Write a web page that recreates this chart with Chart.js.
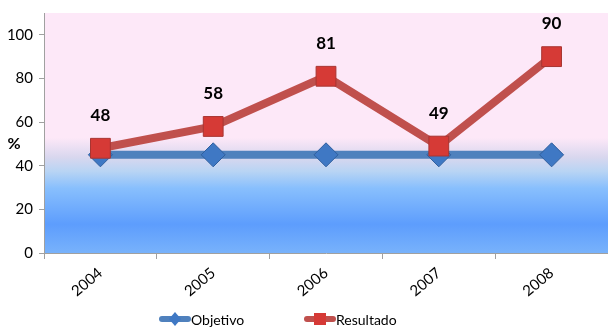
<!DOCTYPE html>
<html>
<head>
<meta charset="utf-8">
<script src="https://cdn.jsdelivr.net/npm/chart.js@4"></script>
<style>
  html, body { margin: 0; padding: 0; background: #ffffff; }
  #wrap { width: 608px; height: 327px; }
</style>
</head>
<body>
<div id="wrap"><canvas id="chart" width="608" height="327"></canvas></div>
<script>
// Year categories and the two series (percent)
const years = ['2004', '2005', '2006', '2007', '2008'];
const objetivo = [45, 45, 45, 45, 45];
const resultado = [48, 58, 81, 49, 90];
const yTicks = [0, 20, 40, 60, 80, 100];

const FONT = 'Lato, "DejaVu Sans Condensed", sans-serif';
const BLUE = '#4f81bd';
const RED = '#c0504d';

// small legend swatch: a thick line with the series marker in the middle
function swatch(color, fill, shape) {
  const c = document.createElement('canvas');
  c.width = 32; c.height = 14;
  const g = c.getContext('2d');
  g.strokeStyle = color; g.lineWidth = 6; g.lineCap = 'round';
  g.beginPath(); g.moveTo(3, 7); g.lineTo(29, 7); g.stroke();
  g.fillStyle = fill;
  g.beginPath();
  if (shape === 'diamond') {
    g.moveTo(16, 0); g.lineTo(22, 7); g.lineTo(16, 14); g.lineTo(10, 7);
  } else {
    g.rect(10, 1, 12, 12);
  }
  g.closePath(); g.fill();
  return c;
}

// plot background: pink fading into a band of blue near the bottom
const backdrop = {
  id: 'backdrop',
  beforeDraw(chart) {
    const { ctx, chartArea: a } = chart;
    const gr = ctx.createLinearGradient(0, a.top, 0, a.bottom);
    gr.addColorStop(0.00, '#fde8f8');
    gr.addColorStop(0.52, '#fde8f8');
    gr.addColorStop(0.60, '#d9d7ee');
    gr.addColorStop(0.66, '#b8d4f4');
    gr.addColorStop(0.73, '#88bffd');
    gr.addColorStop(0.88, '#5d9dfd');
    gr.addColorStop(1.00, '#78b2fb');
    ctx.save();
    ctx.fillStyle = gr;
    ctx.fillRect(a.left, a.top, a.right - a.left, a.bottom - a.top);
    ctx.restore();
  }
};

// value labels above the Resultado markers, the "%" axis caption and the legend
const annotate = {
  id: 'annotate',
  afterDatasetsDraw(chart) {
    const { ctx } = chart;
    const meta = chart.getDatasetMeta(1);
    ctx.save();
    ctx.fillStyle = '#000';
    ctx.font = 'bold 17px ' + FONT;
    ctx.textAlign = 'center';
    ctx.textBaseline = 'middle';
    meta.data.forEach((pt, i) => {
      ctx.fillText(String(resultado[i]), pt.x, pt.y - 33);
    });
    ctx.font = 'bold 16px ' + FONT;
    const yScale = chart.scales.y;
    ctx.fillText('%', 14, yScale.getPixelForValue(50));

    // legend
    ctx.font = '14px ' + FONT;
    ctx.textAlign = 'left';
    const items = [
      { img: swatch(BLUE, '#3f78c4', 'diamond'), text: 'Objetivo', x: 159 },
      { img: swatch(RED, '#d63a36', 'square'), text: 'Resultado', x: 304 }
    ];
    items.forEach(it => {
      ctx.drawImage(it.img, it.x, 312);
      ctx.fillText(it.text, it.x + 32, 320);
    });
    ctx.restore();
  }
};

new Chart(document.getElementById('chart'), {
  type: 'line',
  data: {
    labels: years,
    datasets: [
      {
        label: 'Objetivo',
        data: objetivo,
        borderColor: BLUE,
        borderWidth: 8,
        pointStyle: 'rectRot',
        pointRadius: 12,
        pointBackgroundColor: '#3f78c4',
        pointBorderColor: '#2f5f9e',
        pointBorderWidth: 1,
        tension: 0,
        order: 2
      },
      {
        label: 'Resultado',
        data: resultado,
        borderColor: RED,
        borderWidth: 8,
        pointStyle: 'rect',
        pointRadius: 14,
        pointBackgroundColor: '#d63a36',
        pointBorderColor: '#a83532',
        pointBorderWidth: 1,
        tension: 0,
        order: 1
      }
    ]
  },
  options: {
    responsive: false,
    animation: false,
    layout: { autoPadding: false, padding: { top: 13, right: 0, left: 0, bottom: 0 } },
    plugins: {
      legend: { display: false },
      tooltip: { enabled: false }
    },
    scales: {
      x: {
        offset: true,
        grid: {
          offset: true,
          drawOnChartArea: false,
          drawTicks: true,
          tickLength: 6,
          color: '#a0a0a0'
        },
        border: { color: '#a0a0a0', width: 1 },
        ticks: {
          color: '#000',
          font: { family: FONT, size: 15 },
          minRotation: 40,
          maxRotation: 40,
          padding: 5
        },
        afterFit(scale) {
          scale.height = 74;
          scale.paddingLeft = 0;
          scale.paddingRight = 0;
        }
      },
      y: {
        min: 0,
        max: 110,
        afterBuildTicks(scale) {
          scale.ticks = yTicks.map(v => ({ value: v }));
        },
        grid: {
          drawOnChartArea: false,
          drawTicks: true,
          tickLength: 5,
          color: '#a0a0a0'
        },
        border: { color: '#a0a0a0', width: 1 },
        ticks: {
          color: '#000',
          font: { family: FONT, size: 15 },
          padding: 6
        },
        afterFit(scale) {
          scale.width = 44;
          scale.paddingTop = 0;
          scale.paddingBottom = 0;
        }
      }
    }
  },
  plugins: [backdrop, annotate]
});
</script>
</body>
</html>
